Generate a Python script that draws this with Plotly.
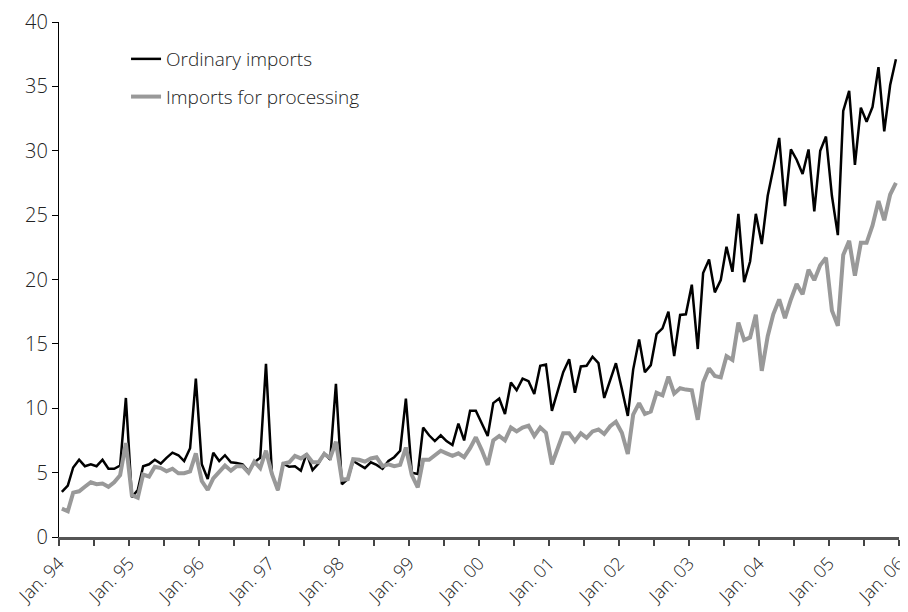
import pandas as pd
import plotly.graph_objects as go

# Monthly values, Jan 1994 - Dec 2005 (USD bn)
ordinary = [
    3.5, 4.0, 5.4, 6.0, 5.5, 5.65, 5.5, 6.0, 5.3, 5.3, 5.55, 10.8,
    3.1, 3.65, 5.5, 5.65, 6.0, 5.7, 6.15, 6.55, 6.35, 5.9, 6.9, 12.3,
    5.65, 4.5, 6.55, 5.9, 6.35, 5.8, 5.75, 5.65, 5.1, 5.8, 6.15, 13.45,
    4.9, 3.65, 5.7, 5.45, 5.5, 5.15, 6.5, 5.2, 5.7, 6.5, 6.0, 11.9,
    4.1, 4.5, 5.9, 5.6, 5.35, 5.8, 5.6, 5.3, 5.9, 6.2, 6.7, 10.75,
    5.0, 4.9, 8.5, 7.9, 7.45, 7.9, 7.45, 7.15, 8.8, 7.5, 9.8, 9.8,
    8.8, 7.85, 10.4, 10.75, 9.55, 12.0, 11.4, 12.3, 12.1, 11.1, 13.3, 13.4,
    9.8, 11.3, 12.8, 13.8, 11.2, 13.25, 13.3, 14.0, 13.5, 10.8, 12.2, 13.5,
    11.5, 9.4, 13.0, 15.35, 12.8, 13.35, 15.75, 16.2, 17.5, 14.05, 17.25, 17.3,
    19.6, 14.6, 20.5, 21.55, 19.0, 19.95, 22.55, 20.6, 25.1, 19.8, 21.4, 25.1,
    22.75, 26.5, 28.6, 31.0, 25.7, 30.1, 29.3, 28.2, 30.1, 25.3, 30.0, 31.1,
    26.5, 23.45, 33.1, 34.65, 28.9, 33.35, 32.25, 33.4, 36.5, 31.5, 35.1, 37.1,
]
processing = [
    2.2, 2.0, 3.45, 3.55, 3.9, 4.25, 4.1, 4.15, 3.9, 4.25, 4.8, 7.3,
    3.25, 3.05, 4.85, 4.7, 5.45, 5.35, 5.1, 5.3, 4.95, 4.95, 5.1, 6.5,
    4.35, 3.65, 4.55, 5.05, 5.55, 5.15, 5.5, 5.5, 5.0, 5.85, 5.35, 6.7,
    4.9, 3.65, 5.7, 5.8, 6.3, 6.1, 6.4, 5.8, 5.8, 6.45, 6.15, 7.4,
    4.45, 4.5, 6.05, 6.0, 5.85, 6.1, 6.2, 5.5, 5.65, 5.5, 5.6, 6.95,
    4.8, 3.85, 6.0, 6.0, 6.35, 6.7, 6.5, 6.3, 6.5, 6.2, 6.9, 7.75,
    6.75, 5.6, 7.5, 7.85, 7.5, 8.5, 8.2, 8.5, 8.65, 7.85, 8.5, 8.1,
    5.65, 6.9, 8.05, 8.05, 7.45, 8.05, 7.7, 8.2, 8.35, 8.0, 8.6, 8.95,
    8.1, 6.45, 9.5, 10.4, 9.55, 9.75, 11.2, 11.0, 12.45, 11.15, 11.55, 11.45,
    11.4, 9.1, 12.0, 13.1, 12.5, 12.4, 14.05, 13.75, 16.65, 15.3, 15.5, 17.27,
    12.9, 15.6, 17.3, 18.45, 17.0, 18.45, 19.65, 18.85, 20.75, 19.95, 21.1, 21.7,
    17.6, 16.4, 21.9, 23.0, 20.3, 22.85, 22.85, 24.2, 26.1, 24.6, 26.6, 27.5,
]
series_names = ["Ordinary imports", "Imports for processing"]
tick_years = list(range(1994, 2007))

months = pd.date_range("1994-01-01", periods=len(ordinary), freq="MS")
x_mid = months + pd.Timedelta(days=15)

tickvals = []
ticktext = []
for y in tick_years:
    tickvals.append(pd.Timestamp(f"{y}-01-01"))
    ticktext.append(f"Jan. {y % 100:02d}")
    if y < tick_years[-1]:
        tickvals.append(pd.Timestamp(f"{y}-07-01"))
        ticktext.append("")

FONT = "Open Sans"
TXT = "#222222"

fig = go.Figure()
fig.add_trace(go.Scatter(
    x=x_mid, y=ordinary, mode="lines", name=series_names[0],
    line=dict(color="#000000", width=2.5), legendgroup="a",
))
fig.add_trace(go.Scatter(
    x=x_mid, y=processing, mode="lines", name=series_names[1],
    line=dict(color="#999999", width=4), legendgroup="b",
))

fig.update_layout(
    width=900, height=604,
    margin=dict(l=51, r=9, t=14, b=75, autoexpand=False),
    paper_bgcolor="white", plot_bgcolor="white",
    font=dict(family=FONT, size=19, color=TXT, weight=300),
    showlegend=True,
    legend=dict(
        x=0.0798, y=0.965, xanchor="left", yanchor="top",
        bgcolor="rgba(0,0,0,0)", tracegroupgap=10,
        font=dict(family=FONT, size=19, color=TXT, weight=300),
    ),
    xaxis=dict(
        type="date",
        range=[pd.Timestamp("1994-01-01"), pd.Timestamp("2006-01-01 02:00")],
        tickmode="array", tickvals=tickvals, ticktext=ticktext,
        tickangle=-45, ticks="outside", ticklen=6, tickwidth=1.5,
        tickcolor="#444444", automargin=False,
        ticklabeloverflow="allow",
        showline=True, linecolor="#555555", linewidth=2.5,
        showgrid=False, zeroline=False,
        tickfont=dict(family=FONT, size=18, color=TXT, weight=300),
    ),
    yaxis=dict(
        range=[0, 40], dtick=5, ticks="outside", ticklen=6, tickwidth=1.2,
        tickcolor="#000000", automargin=False,
        showline=True, linecolor="#000000", linewidth=1.3,
        showgrid=False, zeroline=False,
        tickfont=dict(family=FONT, size=20, color=TXT, weight=300),
    ),
)

fig.write_html("out.html")
